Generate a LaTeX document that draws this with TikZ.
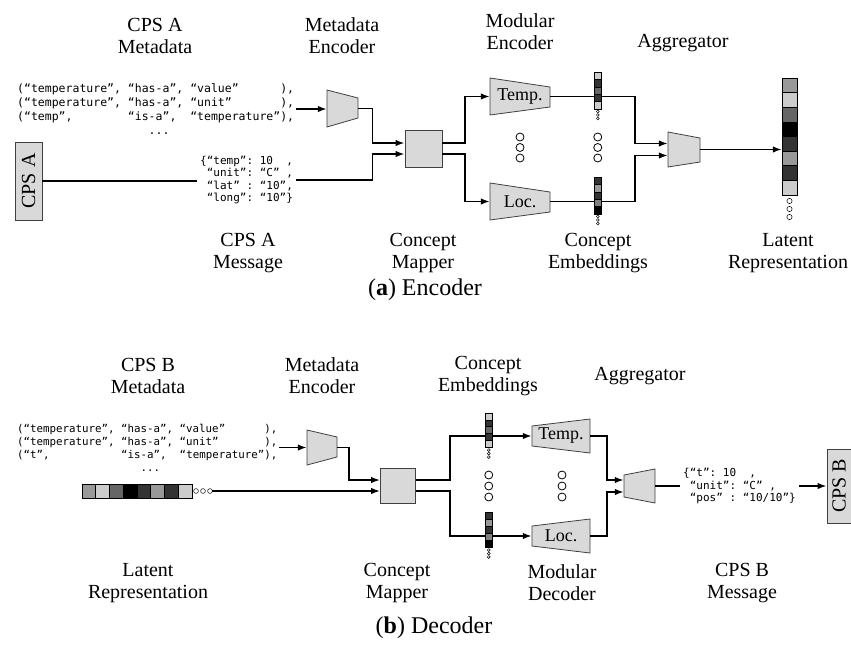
\documentclass[tikz,border=0pt]{standalone}
\usepackage{fontspec}
\setmainfont{Liberation Serif}
\setmonofont{DejaVu Sans Mono}
\usetikzlibrary{arrows.meta}

\newcommand\vvecdraw[5]{\foreach \c [count=\i from 0] in {#5}{\filldraw[fill=black!\c,draw=black,line width=0.6pt] (#1,{#2+\i*#4}) rectangle ++(#3,#4);}}
\newcommand\hvecdraw[5]{\foreach \c [count=\i from 0] in {#5}{\filldraw[fill=black!\c,draw=black,line width=0.7pt] ({#1+\i*#3},#2) rectangle ++(#3,#4);}}

\tikzset{
 lbl/.style={align=center, font=\fontsize{20}{22}\selectfont, inner sep=0pt},
 captxt/.style={font=\fontsize{24}{28}\selectfont, inner sep=0pt},
 code/.style={align=left, anchor=west, inner ysep=0pt, inner xsep=2pt, font=\ttfamily\fontsize{11.5}{13.8}\selectfont},
 codeb/.style={code, font=\ttfamily\fontsize{10.8}{13}\selectfont},
 codec/.style={code, inner xsep=3pt, font=\ttfamily\fontsize{11}{12.6}\selectfont},
 shp/.style={fill=black!15, draw=black!75, line width=0.8pt},
 box/.style={shp, inner sep=0pt},
 hid/.style={inner sep=0pt, draw=none, font=\fontsize{18}{20}\selectfont},
 arr/.style={line width=1.6pt, -{Latex[length=9pt,width=6.5pt]}},
 ln/.style={line width=1.6pt},
 bigdot/.style={draw=black, line width=0.8pt, fill=white},
 smalldot/.style={draw=black, line width=0.5pt, fill=white},
}

\begin{document}
\begin{tikzpicture}[x=1pt,y=-1pt]
\useasboundingbox (0,0) rectangle (851,648);

% ================= ENCODER =================
\node[lbl] (lA1) at (155,36) {CPS A\\Metadata};
\node[lbl] (lA2) at (342,36) {Metadata\\Encoder};
\node[lbl] (lA3) at (520,32) {Modular\\Encoder};
\node[lbl] (lA4) at (683,43) {Aggregator};
\node[lbl] (lA5) at (248,253) {CPS A\\Message};
\node[lbl] (lA6) at (423,253) {Concept\\Mapper};
\node[lbl] (lA7) at (598,253) {Concept\\Embeddings};
\node[lbl] (lA8) at (788,253) {Latent\\Representation};
\node[captxt] (capA) at (425,290) {(\textbf{a}) Encoder};

\node[code] (metaA) at (15,109) {(“temperature”,~“has-a”,~“value”~~~~~~),\\(“temperature”,~“has-a”,~“unit”~~~~~~~),\\(“temp”,~~~~~~~~“is-a”,~~“temperature”),\\~~~~~~~~~~~~~~~~~~~...};
\node[codec] (msgA) at (197,180) {\{“temp”:~10~~,\\~“unit”:~“C”~,\\~“lat”~:~“10”,\\~“long”:~“10”\}};

\node[box, minimum width=27pt, minimum height=78pt] (cpsA) at (28.5,181) {};
\node[rotate=90, inner sep=0pt, font=\fontsize{20}{22}\selectfont] (cpsAt) at (cpsA) {CPS A};

\draw[shp] (327,90) -- (358,98) -- (358,118) -- (327,127) -- cycle;
\node[hid, minimum width=31pt, minimum height=20pt] (mencA) at (342.5,108.5) {};

\node[box, minimum size=37pt] (mapA) at (423.5,148.5) {};

\draw[shp] (490,78) -- (550,87) -- (550,107) -- (490,115) -- cycle;
\node[hid, minimum width=60pt, minimum height=20pt] (tempE) at (520,96.5) {Temp.};
\draw[shp] (490,183) -- (550,192) -- (550,212) -- (490,220) -- cycle;
\node[hid, minimum width=60pt, minimum height=20pt] (locE) at (520,201.5) {Loc.};

\draw[shp] (668,132) -- (700,138) -- (700,162) -- (668,167) -- cycle;
\node[hid, minimum width=32pt, minimum height=24pt] (aggE) at (684,149.5) {};

\node[hid, minimum width=15pt, minimum height=117pt] (latA) at (789.5,136.5) {};

% connectors encoder
\draw[arr] (metaA.east) -- (metaA.east -| mencA.west);
\draw[arr] (mencA.east) -| ([xshift=-32pt,yshift=5.5pt]mapA.west) -- ([yshift=5.5pt]mapA.west);
\draw[ln] (cpsA.east) -- (cpsA.east -| msgA.west);
\draw[arr] (msgA.east) -| ([xshift=-32pt,yshift=-5.5pt]mapA.west) -- ([yshift=-5.5pt]mapA.west);
\draw[arr] ([yshift=5.5pt]mapA.east) -| ([xshift=-25pt]tempE.west) -- (tempE.west);
\draw[arr] ([yshift=-5.5pt]mapA.east) -| ([xshift=-25pt]locE.west) -- (locE.west);
\draw[arr] (tempE.east) -| ([xshift=-33pt,yshift=6pt]aggE.west) -- ([yshift=6pt]aggE.west);
\draw[arr] (locE.east) -| ([xshift=-33pt,yshift=-6pt]aggE.west) -- ([yshift=-6pt]aggE.west);
\draw[arr] (aggE.east) -- (aggE.east -| latA.west);

% vectors encoder
\vvecdraw{594}{72}{7.5}{7.4}{20,80,60,80,20}
\vvecdraw{594}{177}{7.5}{7.4}{80,40,80,50,100}
\foreach \yy in {111.5,115,118.5} {\draw[smalldot] (597.75,\yy) circle (1.4pt);}
\foreach \yy in {216.5,220,223.5} {\draw[smalldot] (597.75,\yy) circle (1.4pt);}
\vvecdraw{782}{78}{15}{14.6}{40,20,60,100,80,40,80,20}
\foreach \yy in {201,209,217} {\draw[smalldot] (789.5,\yy) circle (2.6pt);}
\foreach \yy in {137,147.5,158} {\draw[bigdot] (520,\yy) circle (4pt); \draw[bigdot] (597.75,\yy) circle (4pt);}

% ================= DECODER =================
\node[lbl] (lB1) at (148,376) {CPS B\\Metadata};
\node[lbl] (lB2) at (322,376) {Metadata\\Encoder};
\node[lbl] (lB3) at (488,376) {Concept\\Embeddings};
\node[lbl] (lB4) at (640,376) {Aggregator};
\node[lbl] (lB5) at (148,583) {Latent\\Representation};
\node[lbl] (lB6) at (397,583) {Concept\\Mapper};
\node[lbl] (lB7) at (562,583) {Modular\\Decoder};
\node[lbl] (lB8) at (742,583) {CPS B\\Message};
\node[captxt] (capB) at (434,628) {(\textbf{b}) Decoder};

\node[codeb] (metaB) at (15,447.5) {(“temperature”,~“has-a”,~“value”~~~~~~),\\(“temperature”,~“has-a”,~“unit”~~~~~~~),\\(“t”,~~~~~~~~~~~“is-a”,~~“temperature”),\\~~~~~~~~~~~~~~~~~~~...};
\node[codec] (msgB) at (680,486) {\{“t”:~10~~,\\~“unit”:~“C”~,\\~“pos”~:~“10/10”\}};

\node[box, minimum width=24pt, minimum height=74pt] (cpsB) at (839,486) {};
\node[rotate=90, inner sep=0pt, font=\fontsize{20}{22}\selectfont] (cpsBt) at (cpsB) {CPS B};

\draw[shp] (307,430) -- (337,437) -- (337,457) -- (307,465) -- cycle;
\node[hid, minimum width=30pt, minimum height=20pt] (mencB) at (322,447.5) {};

\node[box, minimum size=35pt] (mapB) at (398,485.5) {};

\hvecdraw{82}{484}{13.75}{14}{40,20,60,100,80,40,80,20}
\node[hid, minimum width=110pt, minimum height=14pt] (latB) at (137,491) {};
\foreach \xx in {196,203} {\draw[smalldot] (\xx,491) circle (2.4pt);}
\coordinate (latBend) at (210,491);
\draw[ln] (latBend) -- ++(3,0);
\draw[smalldot] (210,491) circle (2.4pt);

\draw[shp] (532,426) -- (590,419) -- (590,453) -- (532,446) -- cycle;
\node[hid, minimum width=58pt, minimum height=20pt] (tempD) at (561,436) {Temp.};
\draw[shp] (532,526) -- (590,519) -- (590,553) -- (532,546) -- cycle;
\node[hid, minimum width=58pt, minimum height=20pt] (locD) at (561,536) {Loc.};

\draw[shp] (624,475) -- (655,469) -- (655,503) -- (624,497) -- cycle;
\node[hid, minimum width=31pt, minimum height=22pt] (aggD) at (639.5,486) {};

% connectors decoder
\draw[arr] (metaB.east) -- (metaB.east -| mencB.west);
\draw[arr] (mencB.east) -| ([xshift=-31pt,yshift=5.5pt]mapB.west) -- ([yshift=5.5pt]mapB.west);
\draw[arr] ([xshift=2.4pt]latBend) -- ([yshift=-5.5pt]mapB.west);
\draw[arr] ([yshift=5.5pt]mapB.east) -| ([xshift=-82pt]tempD.west) -- (tempD.west);
\draw[arr] ([yshift=-5.5pt]mapB.east) -| ([xshift=-82pt]locD.west) -- (locD.west);
\draw[arr] (tempD.east) -| ([xshift=-17pt,yshift=6pt]aggD.west) -- ([yshift=6pt]aggD.west);
\draw[arr] (locD.east) -| ([xshift=-17pt,yshift=-6pt]aggD.west) -- ([yshift=-6pt]aggD.west);
\draw[ln] (aggD.east) -- (aggD.east -| msgB.west);
\draw[arr] (msgB.east) -- (msgB.east -| cpsB.west);

% vectors decoder
\vvecdraw{485}{413}{7.5}{6.8}{20,80,60,80,20}
\vvecdraw{485}{512}{7.5}{7}{80,40,80,50,100}
\foreach \yy in {450,453.5,457} {\draw[smalldot] (488.75,\yy) circle (1.4pt);}
\foreach \yy in {550,553.5,557} {\draw[smalldot] (488.75,\yy) circle (1.4pt);}
\foreach \yy in {475,486,497} {\draw[bigdot] (488.75,\yy) circle (4pt); \draw[bigdot] (562,\yy) circle (4pt);}

\end{tikzpicture}
\end{document}
